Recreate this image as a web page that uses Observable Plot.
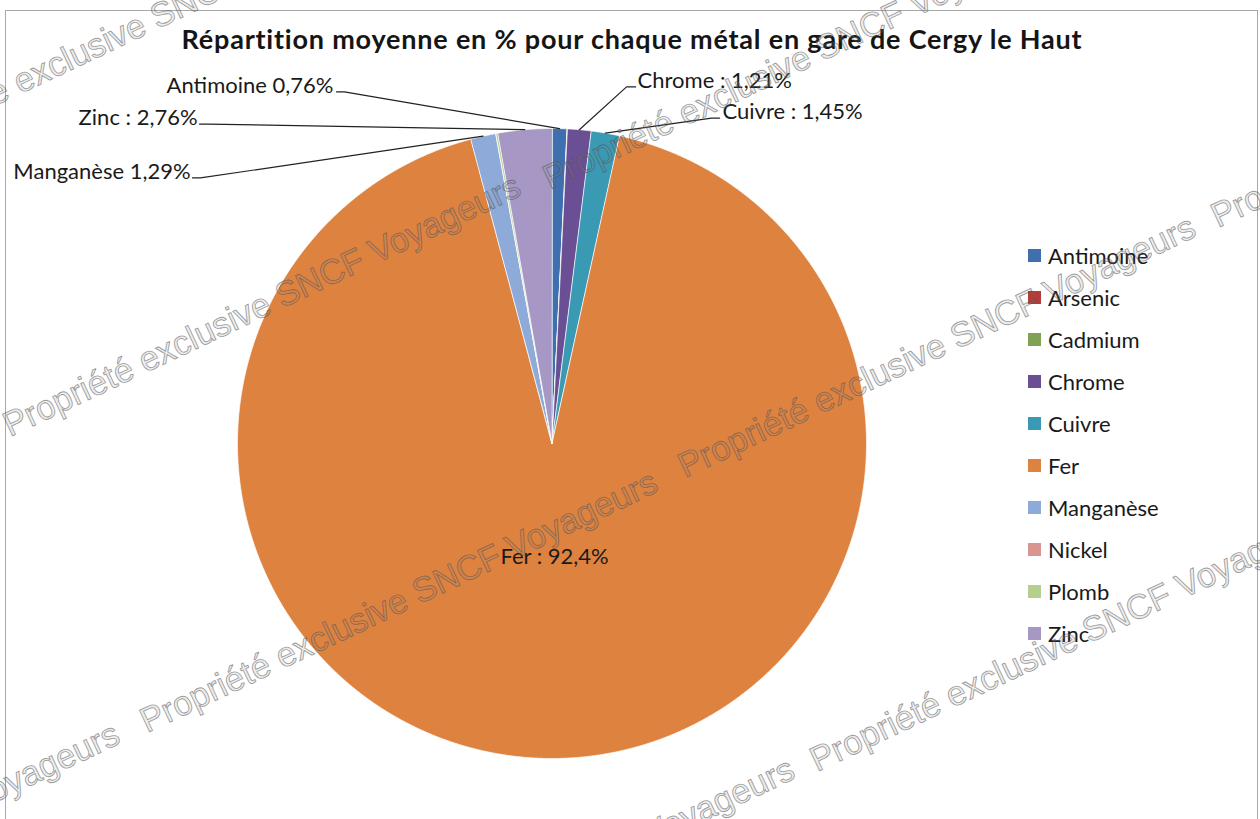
<!DOCTYPE html>
<html><head><meta charset="utf-8">
<script src="https://cdn.jsdelivr.net/npm/d3@7"></script>
<script src="https://cdn.jsdelivr.net/npm/@observablehq/plot@0.6"></script>
<style>
body{margin:0;background:#fff;}
#wrap{position:relative;width:1260px;height:819px;overflow:hidden;font-family:Lato,"Open Sans",sans-serif;background:#fff;}
#frame{position:absolute;left:5px;top:10px;width:1253px;height:830px;border:1.5px solid #a8a8a8;box-sizing:border-box;}
#title{position:absolute;top:22px;left:0;width:1264px;text-align:center;font-weight:bold;font-size:27px;letter-spacing:0.8px;color:#151515;white-space:nowrap;}
#chart{position:absolute;left:0;top:0;}
#legend{position:absolute;left:1028px;top:0;}
.lg{position:absolute;left:0;height:24px;display:flex;align-items:center;white-space:nowrap;font-size:22px;color:#1a1a1a;}
.lg span.sw{display:inline-block;width:13px;height:13px;margin-right:7px;}
#wm{position:absolute;left:0;top:0;pointer-events:none;}
</style>
</head><body>
<div id="wrap">
  <div id="frame"></div>
  <div id="chart"></div>
  <div id="title">Répartition moyenne en % pour chaque métal en gare de Cergy le Haut</div>
  <div id="legend"></div>
  <svg id="wm" width="1260" height="819"></svg>
</div>
<script>
// ---- data ----
const metals = ["Antimoine","Arsenic","Cadmium","Chrome","Cuivre","Fer","Manganèse","Nickel","Plomb","Zinc"];
const values = [0.76, 0.01, 0.01, 1.21, 1.45, 92.4, 1.29, 0.01, 0.10, 2.76];
const colors = ["#3f6fae","#b23d3a","#83a152","#6b4f94","#3a9ab4","#de8240","#8eaad8","#d99592","#b4cf90","#a697c4"];
const labelMetals = ["Antimoine","Zinc","Manganèse","Chrome","Cuivre","Fer"];
const labelTexts  = ["Antimoine 0,76%","Zinc : 2,76%","Manganèse 1,29%","Chrome : 1,21%","Cuivre : 1,45%","Fer : 92,4%"];
const watermark = "Propriété exclusive SNCF Voyageurs";

// ---- layout (in pie-radius units, relative to pie centre) ----
const labelLayout = {
  "Antimoine": {x:-0.695, y:1.135, anchor:"end",   lead:[[-0.685,1.116],[-0.660,1.116]]},
  "Zinc":      {x:-1.127, y:1.033, anchor:"end",   lead:[[-1.121,1.014],[-1.095,1.014]]},
  "Manganèse": {x:-1.149, y:0.862, anchor:"end",   lead:[[-1.143,0.843],[-1.118,0.843]]},
  "Chrome":    {x:0.272,  y:1.151, anchor:"start", lead:[[0.266,1.132],[0.237,1.132]]},
  "Cuivre":    {x:0.542,  y:1.052, anchor:"start", lead:[[0.533,1.033],[0.507,1.033]]},
  "Fer":       {r:0.36, anchor:"middle"}
};

// ---- pie geometry from the values ----
const total = d3.sum(values);
let cum = 0;
const slices = metals.map((m,i)=>{
  const a0 = cum/total*2*Math.PI; cum += values[i];
  const a1 = cum/total*2*Math.PI;
  return {name:m, a0, a1, mid:(a0+a1)/2};
});
const polys = [];
for (const s of slices) {
  polys.push({name:s.name, x:0, y:0});
  const n = Math.max(2, Math.ceil((s.a1-s.a0)/(Math.PI/720)));
  for (let k=0;k<=n;k++){
    const a = s.a0 + (s.a1-s.a0)*k/n;
    polys.push({name:s.name, x:Math.sin(a), y:Math.cos(a)});
  }
}
const sliceBy = Object.fromEntries(slices.map(s=>[s.name,s]));
const labels = labelMetals.map((m,i)=>{
  const L = labelLayout[m], s = sliceBy[m];
  if (L.r) return {name:m, text:labelTexts[i], x:L.r*Math.sin(s.mid), y:L.r*Math.cos(s.mid), anchor:L.anchor};
  return {name:m, text:labelTexts[i], x:L.x, y:L.y, anchor:L.anchor};
});
const leaders = [];
labelMetals.forEach(m=>{
  const L = labelLayout[m]; if (!L.lead) return;
  const s = sliceBy[m];
  L.lead.forEach(p=>leaders.push({name:m, x:p[0], y:p[1]}));
  leaders.push({name:m, x:Math.sin(s.mid), y:Math.cos(s.mid)});
});

const font = "Lato, 'Open Sans', sans-serif";
const textMark = (anchor)=>Plot.text(labels.filter(d=>d.anchor===anchor),{
  x:"x", y:"y", text:"text", textAnchor:anchor, fontSize:22, fontFamily:font, fill:"#1a1a1a"
});

const chart = Plot.plot({
  width:1260, height:819, margin:0,
  x:{type:"linear", domain:[-1,1], range:[237,866], axis:null},
  y:{type:"linear", domain:[-1,1], range:[758,128], axis:null},
  color:{domain:metals, range:colors},
  style:{background:"transparent", overflow:"visible"},
  marks:[
    Plot.line(polys,{x:"x", y:"y", z:"name", fill:"name", stroke:"white", strokeWidth:0.7, curve:"linear-closed"}),
    Plot.line(leaders,{x:"x", y:"y", z:"name", stroke:"#222", strokeWidth:1.2}),
    textMark("end"), textMark("start"), textMark("middle")
  ]
});
document.getElementById("chart").appendChild(chart);

// ---- legend ----
const lg = document.getElementById("legend");
metals.forEach((m,i)=>{
  const row = document.createElement("div");
  row.className="lg";
  row.style.top = (243 + 42*i) + "px";
  row.innerHTML = `<span class="sw" style="background:${colors[i]}"></span>${m}`;
  lg.appendChild(row);
});

// ---- watermark ----
const wmPos = [[10,437],[685,478],[147,733],[817,772],[550,190],[1218,228],[-115,158],[-391,985],[284,1020]];
const wm = d3.select("#wm");
wmPos.forEach(([x,y])=>{
  wm.append("text").attr("x",0).attr("y",0)
    .attr("transform",`translate(${x},${y}) rotate(-25.3)`)
    .attr("font-family","'Liberation Sans', Arial, sans-serif")
    .attr("font-size",34.5)
    .attr("fill","rgba(140,140,140,0.18)")
    .attr("stroke","rgba(80,80,80,0.55)")
    .attr("stroke-width",0.9)
    .text(watermark);
});
</script>
</body></html>
